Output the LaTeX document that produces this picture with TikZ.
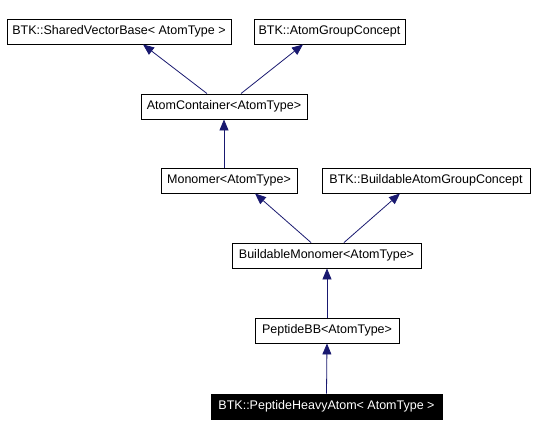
\documentclass[tikz,border=0pt]{standalone}
\usepackage{fontspec}
\setmainfont{Liberation Sans}
\usetikzlibrary{arrows.meta,calc}
\definecolor{edgeblue}{HTML}{191970}
\begin{document}
\begin{tikzpicture}[x=1pt,y=-1pt,
  cls/.style={draw=black,line width=0.9pt,fill=white,inner sep=0pt,minimum height=25pt,
    font=\fontsize{12.5}{15}\selectfont,anchor=center},
  cur/.style={cls,fill=black,text=white},
  inh/.style={draw=edgeblue,line width=0.8pt,-{Triangle[length=11pt,width=9pt,fill=edgeblue]}}]
\fill[white] (0,0) rectangle (536,435);
\useasboundingbox (0,0) rectangle (536,435);
\node[cls,minimum width=224pt] (svb) at (119,31.5) {BTK::SharedVectorBase< AtomType >};
\node[cls,minimum width=151pt] (agc) at (329.5,31.5) {BTK::AtomGroupConcept};
\node[cls,minimum width=166pt] (ac) at (224,106.5) {AtomContainer<AtomType>};
\node[cls,minimum width=136pt] (mon) at (229,180.5) {Monomer<AtomType>};
\node[cls,minimum width=208pt] (bagc) at (426,180.5) {BTK::BuildableAtomGroupConcept};
\node[cls,minimum width=189pt] (bm) at (326.5,255.5) {BuildableMonomer<AtomType>};
\node[cls,minimum width=144pt] (pbb) at (327,330.5) {PeptideBB<AtomType>};
\node[cur,minimum width=231pt] (pha) at (326.5,406.5) {BTK::PeptideHeavyAtom< AtomType >};
\draw[inh] ([xshift=-17pt]ac.north) -- ([xshift=24pt]svb.south);
\draw[inh] ([xshift=17pt]ac.north) -- ([xshift=-26.5pt]agc.south);
\draw[inh] (mon.north -| ac.south) -- (ac.south);
\draw[inh] ([xshift=-15.5pt]bm.north) -- ([xshift=26pt]mon.south);
\draw[inh] ([xshift=17.5pt]bm.north) -- ([xshift=-26pt]bagc.south);
\draw[inh] (pbb.north) -- (bm.south -| pbb.north);
\draw[inh] (pha.north) -- (pbb.south);
\end{tikzpicture}
\end{document}
